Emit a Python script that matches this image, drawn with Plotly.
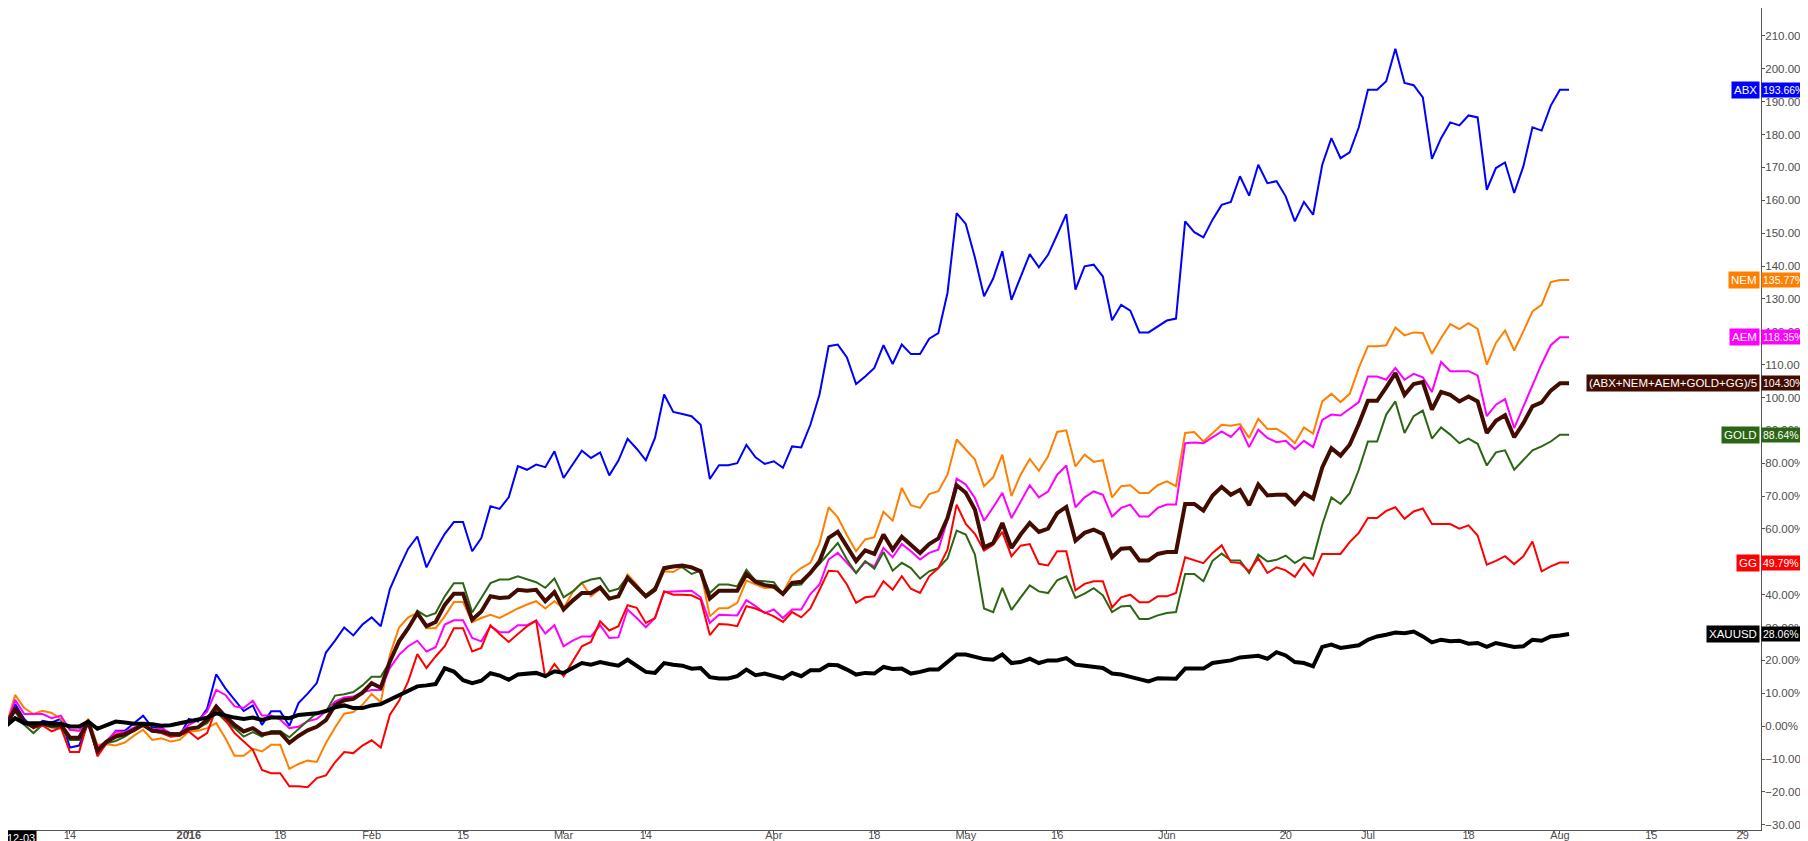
import plotly.graph_objects as go
import pandas as pd

# bars: every weekday, less the two days the gold market was shut
holidays = ["2015-12-25", "2016-01-01"]
dates = pd.bdate_range("2015-12-03", "2016-08-02")
dates = dates[~dates.isin(pd.to_datetime(holidays))]

# % change since 2015-12-03
abx = [0, 6.7, 2.2, -0.6, 1.6, 1.1, 2.2, -6.5, -5.9, 0.9,
       -8.5, -5.2, -1.4, -1.4, 0.9, 3.2, -0.4, -0.3, -2.9, -2.9,
       2.2, 1.4, 5.3, 15.8, 11.5, 8.0, 4.6, 6.3, 0.4, 4.5,
       4.5, 0.1, 7.0, 9.9, 13.1, 22.4, 26.0, 30.0, 27.6, 30.9,
       33.1, 30.4, 41.7, 48.1, 54.0, 57.7, 48.3, 53.7, 58.5, 62.1,
       62.1, 53.2, 57.2, 66.9, 66.1, 69.6, 79.1, 78.0, 79.6, 78.8,
       83.6, 75.5, 79.6, 83.8, 81.6, 83.3, 76.3, 80.8, 87.4, 84.4,
       80.9, 87.7, 100.9, 95.6, 95.0, 94.3, 91.7, 75.2, 79.4, 79.4,
       80.0, 85.6, 81.8, 79.8, 80.6, 78.6, 85.1, 84.8, 91.7, 100.9,
       115.6, 116.1, 112.2, 104.1, 106.4, 109.0, 115.9, 110.2, 116.1, 113.2,
       113.2, 117.9, 119.6, 131.8, 156.1, 152.8, 142.6, 130.8, 136.2, 144.5,
       129.7, 136.8, 143.6, 139.6, 143.4, 149.5, 155.8, 132.8, 139.9, 140.4,
       136.8, 123.5, 128.2, 126.4, 119.8, 119.8, 121.6, 123.4, 124.0, 153.6,
       150.3, 148.7, 154.1, 158.6, 159.5, 167.3, 161.4, 170.8, 165.2, 165.8,
       161.2, 153.6, 159.5, 155.6, 170.8, 178.9, 172.8, 174.6, 182.2, 193.6,
       193.6, 196.2, 206.1, 195.7, 195.0, 191.3, 172.6, 178.9, 183.7, 182.8,
       185.8, 185.2, 163.2, 169.8, 171.5, 162.2, 170.3, 182.2, 181.2, 188.8,
       193.66, 193.66]

nem = [0, 9.5, 5.5, 3.7, 4.7, 4.0, 2.2, -1.1, -1.4, 2.2,
       -5.7, -5.5, -5.9, -5.0, -2.9, -1.1, -4.2, -3.7, -4.7, -4.2,
       -1.6, -1.4, -0.6, 0.9, -3.7, -9.0, -9.0, -6.9, -7.7, -5.7,
       -5.7, -13.0, -11.5, -10.5, -10.9, -5.1, -0.4, 3.8, 4.3, 6.5,
       9.8, 7.3, 21.7, 30.0, 33.1, 34.4, 29.8, 29.8, 33.4, 37.8,
       37.8, 31.6, 32.9, 33.9, 32.9, 34.4, 35.8, 37.0, 38.0, 35.8,
       38.0, 35.8, 40.8, 43.6, 39.5, 41.8, 38.5, 39.8, 46.1, 43.1,
       39.5, 41.2, 47.1, 46.9, 48.6, 48.6, 47.1, 33.4, 35.9, 35.9,
       37.5, 44.3, 43.1, 42.0, 42.2, 40.5, 45.9, 48.1, 49.7, 55.7,
       66.6, 63.5, 58.1, 53.2, 56.8, 57.5, 65.2, 62.5, 72.5, 67.2,
       66.4, 70.6, 71.5, 76.5, 87.2, 84.1, 81.1, 73.0, 75.7, 82.6,
       70.0, 76.5, 81.3, 77.7, 82.1, 89.5, 90.0, 79.0, 82.6, 80.4,
       80.9, 69.6, 73.0, 73.3, 70.9, 70.9, 73.3, 74.5, 73.0, 89.2,
       89.5, 86.6, 89.2, 91.7, 91.4, 91.9, 87.7, 93.5, 90.4, 90.5,
       88.7, 86.1, 90.9, 89.0, 98.8, 101.1, 98.6, 101.1, 109.0, 115.6,
       115.6, 115.9, 121.3, 118.9, 119.8, 119.6, 113.3, 118.1, 122.3, 120.8,
       122.6, 120.9, 110.0, 116.6, 120.4, 114.3, 120.1, 126.2, 128.2, 135.1,
       135.77, 135.77]

aem = [0, 8.0, 3.7, 3.7, 3.7, 2.4, 3.2, -1.1, -1.4, 1.6,
       -6.5, -4.5, -1.6, -1.8, -0.4, 0.2, -1.1, -0.6, -2.1, -2.1,
       0.4, 1.9, 4.4, 11.0, 9.5, 6.0, 5.5, 7.7, 3.2, 3.2,
       2.0, -0.6, -0.2, 1.5, 2.2, 4.5, 7.5, 8.7, 9.0, 10.3,
       11.0, 11.0, 17.7, 21.7, 24.3, 26.0, 22.7, 24.0, 30.9, 32.2,
       32.2, 26.8, 25.8, 30.4, 28.6, 28.6, 30.7, 30.7, 32.1, 28.2,
       30.7, 24.3, 26.0, 27.3, 27.3, 30.7, 26.8, 27.0, 35.5, 32.9,
       30.1, 32.9, 40.8, 41.0, 41.0, 41.2, 39.2, 31.4, 33.9, 33.9,
       33.7, 38.3, 36.5, 34.4, 35.5, 32.9, 35.5, 35.5, 40.2, 43.1,
       50.7, 52.7, 49.7, 46.6, 50.0, 48.6, 54.2, 51.4, 55.4, 53.2,
       50.7, 52.7, 53.7, 62.8, 75.3, 73.5, 69.4, 62.5, 66.6, 71.0,
       63.3, 68.4, 73.3, 69.6, 71.4, 76.5, 79.3, 66.6, 69.6, 71.4,
       70.4, 63.8, 66.4, 67.4, 63.8, 63.8, 66.4, 67.4, 67.4, 86.1,
       86.3, 86.1, 88.0, 89.7, 88.0, 90.9, 84.9, 90.2, 87.7, 86.4,
       86.8, 84.3, 86.8, 84.9, 93.2, 94.8, 94.5, 96.6, 98.6, 106.4,
       106.4, 105.4, 109.0, 105.4, 107.2, 106.1, 101.7, 110.8, 108.0, 108.0,
       108.0, 106.7, 94.3, 97.8, 99.5, 90.7, 97.3, 103.9, 110.2, 115.9,
       118.35, 118.35]

gold = [0, 4.4, 0.4, -2.1, 0.4, -0.4, -0.6, -4.2, -4.2, 1.4,
        -7.7, -5.2, -4.5, -3.2, -1.4, 0.4, -1.1, -1.6, -2.1, -2.1,
        -0.8, -0.6, 0.9, 4.4, 1.6, -0.6, -3.2, -1.8, -3.2, -1.5,
        -1.5, -3.4, -0.8, 1.6, 4.0, 4.4, 9.3, 9.7, 10.4, 12.4,
        15.0, 15.0, 19.7, 25.3, 29.4, 35.1, 33.4, 34.4, 39.5, 43.5,
        43.5, 34.6, 39.0, 43.5, 44.6, 44.6, 45.6, 44.6, 43.8, 42.1,
        44.9, 39.2, 41.0, 43.6, 44.6, 45.1, 41.0, 41.8, 45.6, 42.5,
        40.0, 42.2, 47.6, 48.6, 48.3, 46.3, 47.3, 40.5, 43.1, 43.1,
        42.5, 47.6, 44.3, 44.1, 43.8, 40.0, 42.9, 43.1, 46.6, 49.4,
        52.7, 55.7, 50.7, 46.6, 50.2, 47.9, 53.0, 47.3, 49.7, 48.1,
        44.9, 47.1, 48.1, 51.0, 59.5, 58.3, 52.2, 35.8, 34.7, 42.1,
        35.4, 39.0, 42.8, 41.0, 40.5, 44.4, 45.6, 39.0, 40.3, 42.0,
        39.8, 34.7, 36.4, 36.6, 32.6, 32.6, 33.7, 34.4, 34.7, 46.3,
        46.3, 44.1, 50.3, 52.5, 50.4, 50.4, 46.6, 52.2, 50.1, 50.6,
        51.9, 49.6, 51.4, 50.9, 61.3, 69.6, 67.6, 70.9, 78.0, 86.6,
        86.6, 94.8, 98.8, 89.2, 94.3, 96.0, 87.5, 90.9, 88.7, 86.1,
        87.5, 85.9, 79.3, 83.3, 83.9, 78.0, 81.1, 83.9, 85.1, 86.6,
        88.64, 88.64]

gg = [0, 5.7, 1.2, -0.6, 0.2, -1.6, -0.4, -7.9, -7.9, 1.9,
      -9.2, -5.2, -2.5, -2.1, -1.6, 0.4, -1.6, -2.1, -3.2, -2.9,
      -1.6, -3.9, -2.1, 5.5, 1.9, -2.1, -4.7, -7.2, -13.3, -14.3,
      -14.3, -18.3, -18.3, -18.6, -15.8, -15.0, -11.0, -7.9, -8.2, -5.9,
      -4.3, -6.5, 3.5, 7.7, 13.6, 21.9, 17.7, 21.2, 24.3, 29.8,
      29.8, 22.7, 23.8, 30.7, 28.0, 25.6, 28.0, 30.4, 32.1, 14.7,
      18.9, 15.2, 19.7, 24.3, 25.6, 31.9, 29.1, 30.4, 36.8, 36.0,
      31.4, 32.9, 41.0, 40.0, 40.0, 39.8, 38.5, 27.7, 31.1, 30.9,
      30.4, 36.5, 35.8, 34.7, 33.4, 31.7, 34.7, 33.1, 35.8, 41.5,
      47.3, 47.1, 43.1, 37.5, 39.2, 39.5, 44.1, 41.5, 45.6, 41.8,
      40.5, 45.6, 48.1, 53.7, 67.4, 61.5, 58.5, 53.4, 55.2, 59.1,
      51.7, 54.9, 55.4, 49.4, 48.9, 53.2, 53.2, 41.3, 43.3, 44.1,
      44.1, 36.1, 39.2, 40.0, 37.7, 37.7, 39.5, 39.5, 40.5, 51.4,
      50.6, 49.6, 52.7, 55.0, 49.9, 49.6, 47.1, 51.1, 46.6, 48.3,
      47.4, 45.4, 49.4, 45.9, 52.4, 52.5, 52.4, 56.0, 58.8, 63.3,
      63.3, 65.5, 66.6, 63.1, 65.3, 66.2, 61.5, 61.5, 61.5, 60.1,
      61.1, 58.0, 49.1, 50.3, 51.7, 49.3, 51.7, 56.2, 47.1, 48.6,
      49.79, 49.79]

basket = [0, 5.5, 1.2, -0.1, 0.9, 0.2, 0.4, -3.5, -3.5, 1.4,
          -7.5, -4.7, -3.2, -2.5, -1.1, 0.4, -1.4, -1.6, -2.5, -2.5,
          -0.8, -0.4, 1.9, 6.0, 2.9, 0.4, -1.6, -0.6, -2.5, -2.0,
          -2.0, -5.1, -3.0, -1.3, -0.2, 1.8, 6.4, 7.9, 8.3, 10.2,
          13.1, 11.7, 19.7, 25.8, 29.8, 34.4, 30.4, 31.7, 36.9, 40.3,
          40.3, 32.4, 34.9, 39.5, 39.0, 39.2, 41.5, 41.2, 41.5, 38.0,
          40.8, 35.5, 38.2, 40.5, 40.5, 42.2, 38.8, 39.5, 45.1, 42.4,
          39.5, 41.5, 48.1, 48.6, 48.9, 48.3, 47.1, 38.8, 41.2, 41.2,
          41.2, 46.3, 43.9, 42.9, 42.5, 40.2, 43.6, 43.9, 46.6, 50.2,
          57.3, 59.1, 54.4, 50.2, 53.5, 52.4, 58.3, 53.7, 57.6, 55.2,
          52.7, 55.4, 57.1, 63.3, 73.3, 71.0, 65.9, 54.4, 55.7, 61.8,
          54.2, 58.3, 61.8, 59.1, 60.1, 64.8, 66.7, 56.4, 58.8, 59.8,
          58.5, 51.4, 54.0, 54.2, 50.4, 50.4, 52.4, 53.0, 53.0, 67.6,
          67.6, 65.6, 70.2, 72.8, 70.4, 71.9, 67.2, 73.5, 70.2, 70.4,
          70.4, 67.6, 70.9, 69.2, 78.7, 84.6, 82.3, 85.6, 91.9, 99.0,
          99.0, 103.1, 107.4, 100.8, 104.1, 104.7, 96.3, 101.7, 100.8, 98.8,
          100.3, 98.8, 89.2, 92.9, 94.6, 87.9, 92.2, 97.3, 98.5, 102.1,
          104.30, 104.30]

xauusd = [0, 2.4, 0.9, 0.9, 1.1, 0.9, 0.7, -0.1, -0.1, 1.4,
          -0.8, 0.4, 1.4, 1.1, 0.7, 0.7, 0.6, 0.1, 0.3, 0.9,
          1.4, 2.2, 2.6, 3.9, 3.2, 2.6, 2.2, 2.6, 1.9, 2.6,
          2.6, 2.4, 3.4, 3.7, 3.9, 4.6, 5.7, 6.3, 5.5, 5.5,
          6.3, 6.7, 8.0, 9.5, 10.7, 12.1, 12.4, 12.8, 17.6, 16.6,
          14.0, 13.1, 13.8, 16.1, 15.4, 14.1, 15.7, 15.9, 16.2, 15.2,
          16.7, 16.2, 17.7, 19.2, 18.7, 19.5, 18.9, 18.4, 20.2, 18.2,
          16.5, 16.2, 19.2, 18.7, 18.4, 17.5, 17.7, 14.9, 14.5, 14.5,
          15.2, 17.2, 15.5, 16.0, 15.2, 14.5, 16.2, 15.2, 17.0, 17.0,
          18.7, 18.5, 17.2, 15.7, 16.2, 16.0, 18.0, 17.4, 17.5, 16.0,
          16.5, 17.2, 17.2, 19.5, 21.8, 21.8, 21.1, 20.4, 20.2, 21.8,
          19.2, 19.5, 20.5, 19.2, 20.0, 20.0, 20.7, 18.7, 18.4, 18.1,
          17.7, 16.0, 15.7, 15.0, 14.3, 13.6, 14.6, 14.4, 14.4, 17.5,
          17.5, 17.5, 19.2, 19.7, 20.0, 20.9, 21.2, 21.4, 20.5, 22.5,
          21.5, 19.5, 19.2, 18.2, 24.1, 24.8, 23.8, 24.3, 24.6, 26.3,
          27.3, 27.8, 28.5, 28.3, 28.8, 27.3, 25.5, 26.3, 25.8, 26.0,
          25.1, 25.3, 24.1, 25.3, 24.6, 24.1, 24.3, 26.3, 26.0, 27.3,
          27.6, 28.06]

tick_dates = ["2015-12-14", "2016-01-04", "2016-01-18", "2016-02-01", "2016-02-15",
              "2016-03-01", "2016-03-14", "2016-04-01", "2016-04-18", "2016-05-02",
              "2016-05-16", "2016-06-01", "2016-06-20", "2016-07-01", "2016-07-18",
              "2016-08-01", "2016-08-15", "2016-08-29"]
tick_text = ["14", "<b>2016</b>", "18", "Feb", "15", "Mar", "14", "Apr", "18", "May",
             "16", "Jun", "20", "Jul", "18", "Aug", "15", "29"]

series = [
    ("ABX", abx, "#0000ff", 2),
    ("NEM", nem, "#ff7f00", 2),
    ("AEM", aem, "#ff00ff", 2),
    ("GOLD", gold, "#2c6614", 2),
    ("GG", gg, "#ff0000", 2),
    ("(ABX+NEM+AEM+GOLD+GG)/5", basket, "#420c00", 4),
    ("XAUUSD", xauusd, "#000000", 4),
]

FONT = "Arial, Liberation Sans, sans-serif"

fig = go.Figure()
annotations = []
for name, vals, color, width in series:
    fig.add_trace(go.Scatter(
        x=dates, y=vals, mode="lines", name=name,
        line=dict(color=color, width=width),
    ))
    last = vals[-1]
    # name tag to the left of the price axis
    annotations.append(dict(
        xref="paper", x=1, yref="y", y=last, xanchor="right", yanchor="middle",
        xshift=-1, text=name, showarrow=False,
        bgcolor=color, borderpad=2, font=dict(family=FONT, color="white", size=11.5),
    ))
    # value tag on the axis
    annotations.append(dict(
        xref="paper", x=1, yref="y", y=last, xanchor="left", yanchor="middle",
        xshift=0, text="%.2f%%" % last, showarrow=False,
        bgcolor=color, borderpad=1, font=dict(family=FONT, color="white", size=10.5),
    ))

annotations.append(dict(
    xref="paper", x=0, yref="paper", y=0, xanchor="left", yanchor="top",
    xshift=-3, text="12-03", showarrow=False, bgcolor="black", borderpad=1,
    font=dict(family=FONT, color="white", size=11),
))

fig.update_layout(
    width=1808, height=841,
    margin=dict(l=0, r=55, t=0, b=19),
    plot_bgcolor="white", paper_bgcolor="white",
    showlegend=False,
    font=dict(family=FONT, size=11, color="#4d4d4d"),
    xaxis=dict(
        type="date",
        range=["2015-12-03 05:15", "2016-08-31"],
        rangebreaks=[dict(bounds=["sat", "mon"]), dict(values=holidays)],
        tickvals=tick_dates, ticktext=tick_text,
        ticks="outside", ticklen=3, tickcolor="#555555",
        ticklabelstandoff=-8,
        showline=True, linecolor="#555555", linewidth=1,
        showgrid=False, zeroline=False,
    ),
    yaxis=dict(
        side="right", range=[-31.6, 218.5],
        tick0=0, dtick=10, tickformat=".2f", ticksuffix="%",
        ticks="outside", ticklen=3, tickcolor="#555555",
        ticklabelstandoff=-2, tickfont=dict(size=11.5),
        showline=True, linecolor="#555555", linewidth=1,
        showgrid=False, zeroline=False,
    ),
    annotations=annotations,
)

fig.write_html("out.html")
